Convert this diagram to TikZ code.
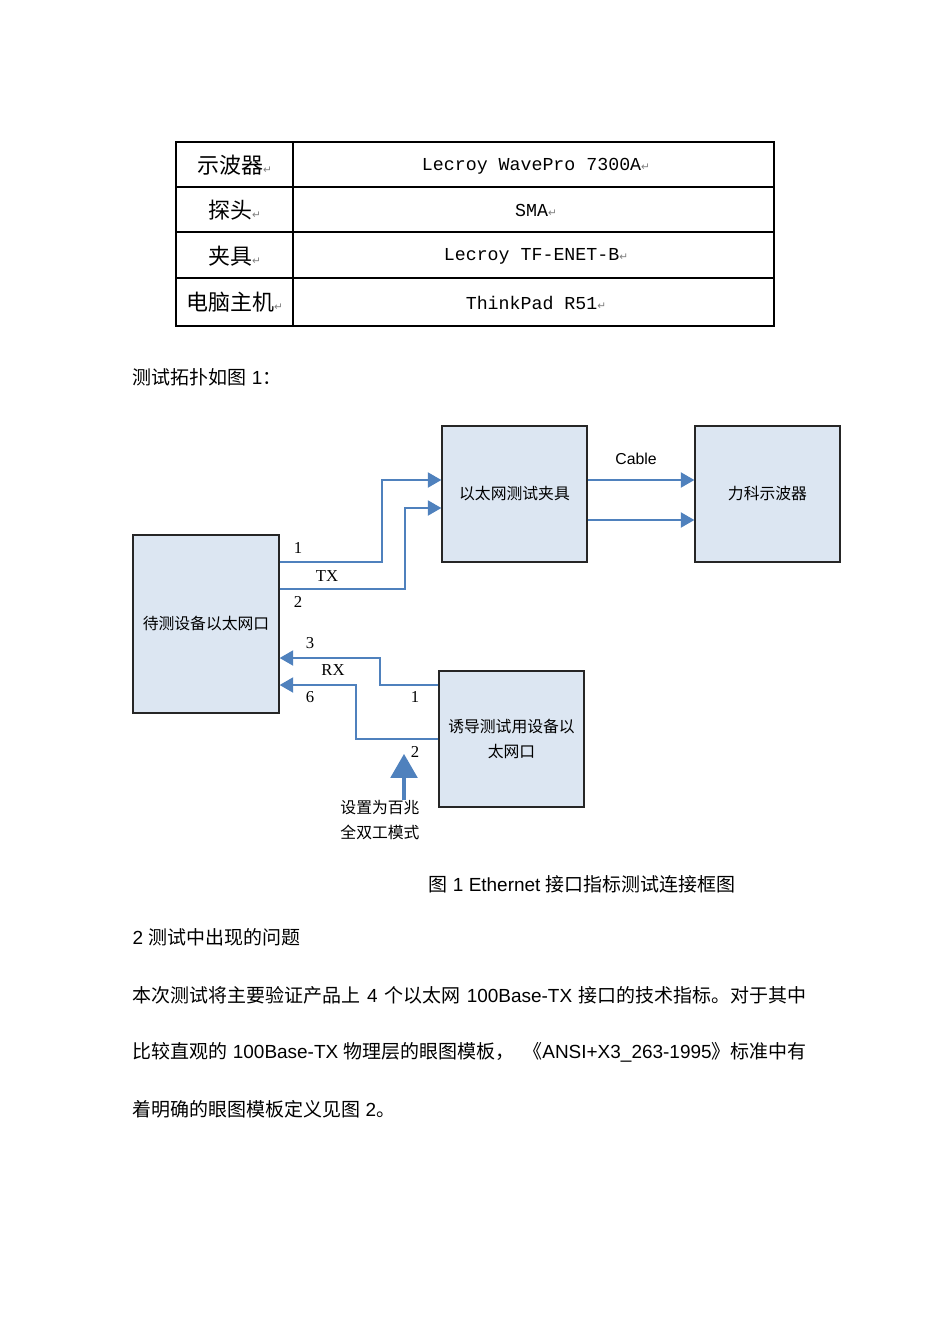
\documentclass[tikz,border=0pt]{standalone}
\usepackage{fontspec}
\setmainfont{Liberation Serif}
\newfontfamily\cjk{Noto Sans CJK SC}
\newfontfamily\helv{Liberation Sans}
\newfontfamily\mono{Liberation Mono}
\newfontfamily\sym{DejaVu Sans}
\usepackage{tikz}
\usetikzlibrary{arrows}
\usetikzlibrary{positioning}
\definecolor{boxfill}{RGB}{220,230,242}
\definecolor{wireblue}{RGB}{79,129,189}
\newcommand\parmark{{\sym\color{gray}\fontsize{6}{6}\selectfont ↵}}
\tikzstyle{unit}=[rectangle,draw=black!85,fill=boxfill,inner sep=0mm,minimum width=2.9cm,minimum height=2.72cm,align=center,font=\cjk\fontsize{9}{14}\selectfont]
\tikzstyle{wire}=[->,>=triangle 60,draw=wireblue,line width=1.1pt]
\tikzstyle{pin}=[inner sep=0pt,font=\fontsize{9.5}{11}\selectfont]
\tikzstyle{keycell}=[inner sep=0pt,font=\cjk\fontsize{12.5}{14}\selectfont]
\tikzstyle{valcell}=[inner sep=0pt,font=\mono\fontsize{10.4}{12}\selectfont]
\tikzstyle{body}=[anchor=west,inner sep=0pt,font=\cjk\fontsize{10.8}{12}\selectfont]
\tikzset{every picture/.style={
    line width=0.8pt
  }
}

\begin{document}
\begin{tikzpicture}[x=0.02cm,y=-0.02cm]
        \useasboundingbox (0,0) rectangle (950,1342);
        % equipment table
        \draw (176,142) rectangle (774,326);
        \draw (293,142) -- (293,326);
        \foreach \y in {187,232,278}
          \draw (176,\y) -- (774,\y);
        \node[keycell] at (234.5,165) (k1) {示波器\parmark};
        \node[keycell] at (234.5,210) (k2) {探头\parmark};
        \node[keycell] at (234.5,256) (k3) {夹具\parmark};
        \node[keycell] at (234.5,302) (k4) {电脑主机\parmark};
        \node[valcell] at (536,166) (v1) {Lecroy WavePro 7300A\parmark};
        \node[valcell] at (536,210) (v2) {SMA\parmark};
        \node[valcell] at (536,256) (v3) {Lecroy TF-ENET-B\parmark};
        \node[valcell] at (536,303) (v4) {ThinkPad R51\parmark};
        \node[body] at (132,377) (intro) {测试拓扑如图{\helv\ 1}：};
        % test setup
        \node[unit] at (514.5,494) (fixture) {以太网测试夹具};
        \node[unit] at (767.5,494) (scope) {力科示波器};
        \node[unit,minimum width=2.92cm,minimum height=3.56cm] at (206,624) (dut) {待测设备以太网口};
        \node[unit] at (511.5,739) (peer) {诱导测试用设备以\\太网口};
        \draw[wire] (dut.east |- 0,562) -- ++(102,0) |- (fixture.west |- 0,480);
        \draw[wire] (dut.east |- 0,589) -- ++(125,0) |- (fixture.west |- 0,508);
        \draw[wire] (fixture.east |- 0,480) -- (scope.west |- 0,480);
        \draw[wire] (fixture.east |- 0,520) -- (scope.west |- 0,520);
        \draw[wire] (peer.west |- 0,685) -- ++(-58,0) |- (dut.east |- 0,658);
        \draw[wire] (peer.west |- 0,739) -- ++(-82,0) |- (dut.east |- 0,685);
        \node[pin] at (298,548) (tx1) {1};
        \node[pin] at (327,576) (tx) {TX};
        \node[pin] at (298,602) (tx2) {2};
        \node[pin,font=\helv\fontsize{9}{11}\selectfont] at (636,459) (cable) {Cable};
        \node[pin] at (310,643) (rx3) {3};
        \node[pin] at (333,670) (rx) {RX};
        \node[pin] at (310,697) (rx6) {6};
        \node[pin] at (415,697) (pp1) {1};
        \node[pin] at (415,752) (pp2) {2};
        \node[align=center,inner sep=0pt,font=\cjk\fontsize{9}{14}\selectfont] at (380,820) (mode) {设置为百兆\\全双工模式};
        \draw[->,>=triangle 60,draw=wireblue,line width=2.8pt] (mode.north -| 404,0) -- (404,754);
        % caption and text
        \node[body] at (428,884) (caption) {图{\helv\ 1 Ethernet }接口指标测试连接框图};
        \node[body] at (132,937) (sec) {{\helv 2 }测试中出现的问题};
        \node[body] at (132,995) (line1) {\makebox[13.48cm][s]{本次测试将主要验证产品上{\helv\ 4 }个以太网{\helv\ 100Base-TX }接口的技术指标。对于其中}};
        \node[body] at (132,1052) (line2) {\makebox[13.48cm][s]{比较直观的{\helv\ 100Base-TX }物理层的眼图模板，\hfil《{\helv ANSI+X3\_263-1995}》标准中有}};
        \node[body] at (132,1109) (line3) {着明确的眼图模板定义见图{\helv\ 2}。};
\end{tikzpicture}
\end{document}
